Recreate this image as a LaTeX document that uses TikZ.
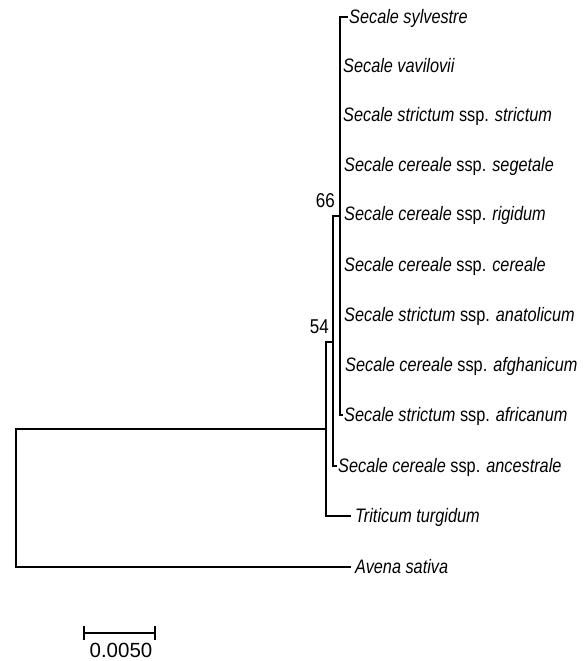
\documentclass[tikz,border=0pt]{standalone}
\usepackage{fontspec}
\setmainfont{Liberation Sans}
\usetikzlibrary{calc}
% condensed Arial-like lettering used for all tree labels
\newcommand{\narrowtxt}[2]{\scalebox{#1}[1]{#2}}
\begin{document}
\begin{tikzpicture}[x=1pt,y=-1pt,
  branch/.style={line width=1.6pt, line cap=rect},
  taxon/.style={anchor=base west, inner sep=0pt, font=\fontsize{19.5}{22}\selectfont\itshape},
  support/.style={anchor=base east, inner sep=0pt, font=\fontsize{20}{22}\selectfont},
  scalelabel/.style={anchor=base, inner sep=0pt, font=\fontsize{20.5}{22}\selectfont}]
\useasboundingbox (0,0) rectangle (587,661);

% internal nodes of the tree
\coordinate (root) at (16,429);
\coordinate (rootT) at (16,567);
\coordinate (nA) at (326,429);
\coordinate (nAt) at (326,342);
\coordinate (nAb) at (326,516);
\coordinate (nB) at (333,342);
\coordinate (nBt) at (333,216);
\coordinate (nBb) at (333,466);
\coordinate (nC) at (340,216);
\coordinate (nCt) at (340,17);
\coordinate (nCb) at (340,415);

% taxon labels
\node[taxon] (t1)  at (349,23.5)  {\narrowtxt{0.835}{Secale sylvestre}};
\node[taxon] (t2)  at (343,72.5)  {\narrowtxt{0.835}{Secale vavilovii}};
\node[taxon] (t3)  at (343,121.5) {\narrowtxt{0.835}{Secale strictum \upshape ssp. \itshape strictum}};
\node[taxon] (t4)  at (344,171.5) {\narrowtxt{0.835}{Secale cereale \upshape ssp. \itshape segetale}};
\node[taxon] (t5)  at (344,220.5) {\narrowtxt{0.835}{Secale cereale \upshape ssp. \itshape rigidum}};
\node[taxon] (t6)  at (344,271.5) {\narrowtxt{0.835}{Secale cereale \upshape ssp. \itshape cereale}};
\node[taxon] (t7)  at (344,321.5) {\narrowtxt{0.835}{Secale strictum \upshape ssp. \itshape anatolicum}};
\node[taxon] (t8)  at (345,371.5) {\narrowtxt{0.835}{Secale cereale \upshape ssp. \itshape afghanicum}};
\node[taxon] (t9)  at (344,421.5) {\narrowtxt{0.835}{Secale strictum \upshape ssp. \itshape africanum}};
\node[taxon] (t10) at (338,472.5) {\narrowtxt{0.835}{Secale cereale \upshape ssp. \itshape ancestrale}};
\node[taxon] (t11) at (355,522.5) {\narrowtxt{0.835}{Triticum turgidum}};
\node[taxon] (t12) at (355,573.5) {\narrowtxt{0.835}{Avena sativa}};

% bootstrap values
\node[support] (b66) at (335,207) {\narrowtxt{0.85}{66}};
\node[support] (b54) at (329,333) {\narrowtxt{0.85}{54}};

% branches
\draw[branch] (rootT) -- (root) -- (nA);
\draw[branch, shorten >=5pt] (rootT) -- (rootT -| t12.west);
\draw[branch] (nAt) -- (nAb);
\draw[branch] (nAt) -- (nB);
\draw[branch, shorten >=5pt] (nAb) -- (nAb -| t11.west);
\draw[branch] (nBt) -- (nBb);
\draw[branch] (nBt) -- (nC);
\draw[branch] (nBb) -- ++(3,0);
\draw[branch] (nCt) -- (nCb);
\draw[branch, shorten >=1.5pt] (nCt) -- (nCt -| t1.west);
\draw[branch] (nCb) -- ++(2,0);

% scale bar
\coordinate (s1) at (84,633);
\coordinate (s2) at (155,633);
\draw[line width=1.6pt] (s1) -- (s2);
\draw[line width=1.6pt] ($(s1)+(0,-7)$) -- ($(s1)+(0,7)$);
\draw[line width=1.6pt] ($(s2)+(0,-7)$) -- ($(s2)+(0,7)$);
\node[scalelabel] (sl) at (121,657) {0.0050};
\end{tikzpicture}
\end{document}
